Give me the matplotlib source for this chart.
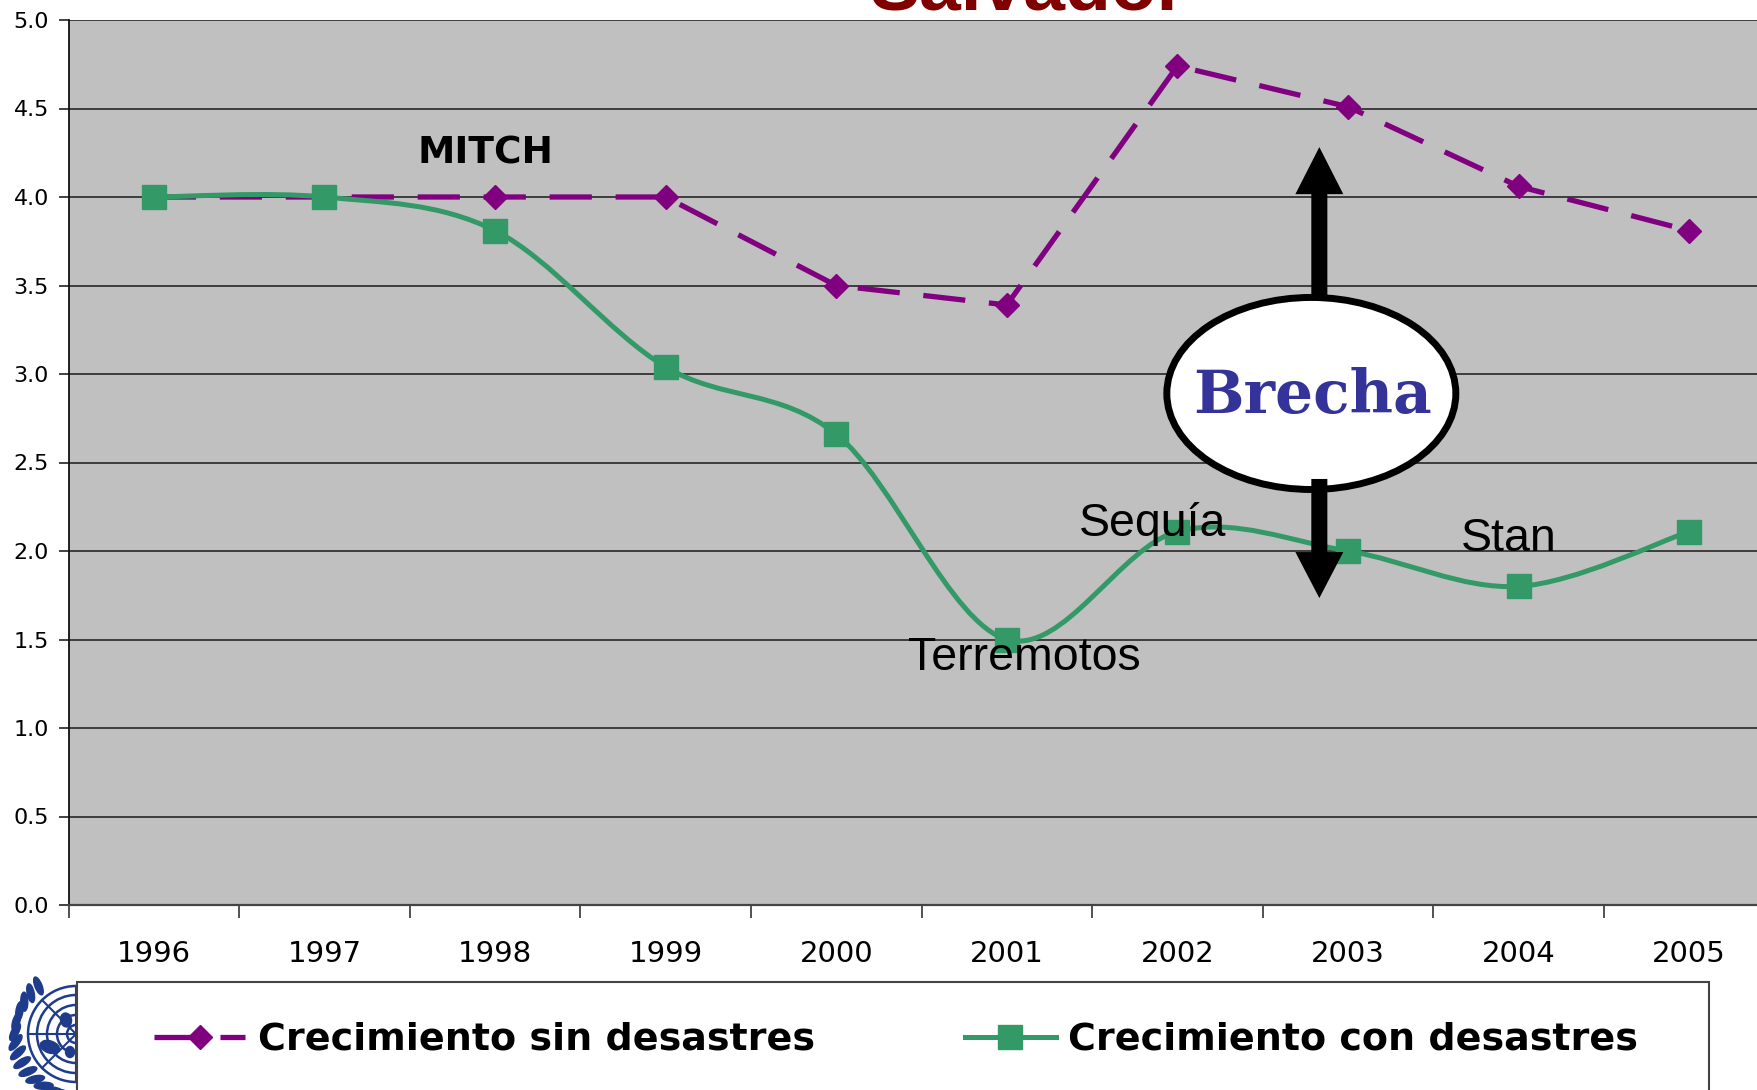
import numpy as np
import matplotlib
matplotlib.use("Agg")
import matplotlib.pyplot as plt
import matplotlib.patches as mpatches
from matplotlib.path import Path
from matplotlib.lines import Line2D
from matplotlib.font_manager import FontProperties

# ---------------- data ----------------
years = ["1996", "1997", "1998", "1999", "2000", "2001", "2002", "2003", "2004", "2005"]
sin_desastres = [4.00, 4.00, 4.00, 4.00, 3.50, 3.39, 4.74, 4.51, 4.06, 3.81]
con_desastres = [4.00, 4.00, 3.81, 3.04, 2.66, 1.50, 2.11, 2.00, 1.80, 2.11]
yticks = [0.0, 0.5, 1.0, 1.5, 2.0, 2.5, 3.0, 3.5, 4.0, 4.5, 5.0]
label_sin = "Crecimiento sin desastres"
label_con = "Crecimiento con desastres"
title_text = "Salvador"

PURPLE = "#800080"
GREEN = "#339966"
BG = "#C0C0C0"
W, H = 1757, 1090

fig = plt.figure(figsize=(W / 100, H / 100), dpi=100)
fig.patch.set_facecolor("white")

# main axes (extends past right edge, as in reference)
ax = fig.add_axes([68.5 / W, (H - 905) / H, 1706 / W, 885 / H])
ax.set_facecolor(BG)
xs = np.arange(len(years))
ax.set_xlim(-0.5, len(years) - 0.5)
ax.set_ylim(0, 5)

ax.set_yticks(yticks)
ax.set_yticklabels([f"{v:.1f}" for v in yticks], fontfamily="DejaVu Sans", fontsize=16)
ax.yaxis.grid(True, color="#333333", lw=1.3)
ax.set_axisbelow(True)
ax.tick_params(axis="y", length=7, width=1.2, pad=7, color="#222222")

ax.set_xticks(xs)
ax.set_xticklabels(years, fontfamily="DejaVu Sans", fontsize=21)
ax.tick_params(axis="x", which="major", length=0, pad=25)
ax.set_xticks(np.arange(-0.5, len(years), 1.0), minor=True)
ax.tick_params(axis="x", which="minor", length=9, width=1.2, color="#333333")

for s in ["top", "right"]:
    ax.spines[s].set_visible(False)
ax.spines["left"].set_color("#111111")
ax.spines["left"].set_linewidth(1.3)
ax.spines["bottom"].set_color("#444444")
ax.spines["bottom"].set_linewidth(1.6)

# ---------------- series ----------------
ln_sin, = ax.plot(xs, sin_desastres, color=PURPLE, lw=3.8, marker="D", ms=12,
                  markeredgecolor=PURPLE, zorder=3, solid_capstyle="butt")
ln_sin.set_dashes((8, 4.5))


def smooth_path(x, y):
    pts = np.column_stack([x, y]).astype(float)
    n = len(pts)
    verts = [pts[0]]
    codes = [Path.MOVETO]
    for i in range(n - 1):
        p0 = pts[i - 1] if i > 0 else pts[i]
        p1 = pts[i]
        p2 = pts[i + 1]
        p3 = pts[i + 2] if i + 2 < n else pts[i + 1]
        c1 = p1 + (p2 - p0) / 6.0
        c2 = p2 - (p3 - p1) / 6.0
        verts += [c1, c2, p2]
        codes += [Path.CURVE4] * 3
    return Path(verts, codes)


ax.add_patch(mpatches.PathPatch(smooth_path(xs, con_desastres), fill=False,
                                edgecolor=GREEN, lw=3.6, zorder=4,
                                joinstyle="round", capstyle="round"))
ax.plot(xs, con_desastres, ls="none", marker="s", ms=17, color=GREEN,
        markeredgecolor=GREEN, zorder=4.5)

# ---------------- annotations ----------------
ax.text(1.943, 4.19, "MITCH", fontfamily="DejaVu Sans", fontweight="bold",
        fontsize=27, ha="center", va="baseline", zorder=5)
ax.text(5.856, 2.085, "Sequía", fontfamily="Liberation Sans", fontsize=33.5,
        ha="center", va="baseline", zorder=5)
ax.text(5.10, 1.328, "Terremotos", fontfamily="Liberation Sans", fontsize=33.5,
        ha="center", va="baseline", zorder=5)
ax.text(7.943, 2.0, "Stan", fontfamily="Liberation Sans", fontsize=33.5,
        ha="center", va="baseline", zorder=5)

# Brecha: arrows + ellipse
ax.add_patch(mpatches.FancyArrow(6.832, 3.418, 0, 0.864, width=0.094,
                                 head_width=0.281, head_length=0.266,
                                 length_includes_head=True, color="black",
                                 lw=0, zorder=6))
ax.add_patch(mpatches.Ellipse((6.785, 2.89), 1.694, 1.085, facecolor="white",
                              edgecolor="black", lw=5, zorder=7))
ax.add_patch(mpatches.FancyArrow(6.832, 2.407, 0, -0.673, width=0.094,
                                 head_width=0.281, head_length=0.26,
                                 length_includes_head=True, color="black",
                                 lw=0, zorder=8))
ax.text(6.791, 2.78, "Brecha", fontfamily="DejaVu Serif", fontweight="bold",
        fontsize=43, color="#333399", ha="center", va="baseline", zorder=9)

# title (cut off at top, as in the reference)
fig.text(1028 / W, 1 - 9 / H, title_text, fontfamily="Liberation Sans",
         fontweight="bold", fontsize=54, color="#800000", ha="center",
         va="baseline")

# ---------------- UN emblem (decorative, partly hidden) ----------------
lax = fig.add_axes([0, 0, 140 / W, 130 / H])
lax.set_xlim(0, 140)
lax.set_ylim(1090, 960)
lax.axis("off")
BLUE = "#1f3b8c"
cx, cy = 76, 1034
for r in [9, 19, 29, 39, 48]:
    lax.add_patch(mpatches.Circle((cx, cy), r, fill=False, edgecolor=BLUE, lw=1.8))
for a in np.deg2rad(np.arange(0, 360, 45)):
    lax.plot([cx, cx + 48 * np.cos(a)], [cy, cy + 48 * np.sin(a)], color=BLUE, lw=1.5)
lax.add_patch(mpatches.Ellipse((50, 1047), 20, 12, angle=20, color=BLUE))
lax.add_patch(mpatches.Ellipse((66, 1020), 11, 14, angle=-10, color=BLUE))
lax.add_patch(mpatches.Ellipse((70, 1052), 9, 11, color=BLUE))
for ang in np.arange(128, 262, 10):
    t = np.deg2rad(ang)
    px, py = cx + 61 * np.cos(t), cy - 61 * np.sin(t)
    lax.add_patch(mpatches.Ellipse((px, py), 19, 7, angle=ang + 90 + 30,
                                   color=BLUE))

# legend frame (extends past bottom)
fig.patches.append(mpatches.Rectangle((77 / W, -0.05), (1709 - 77) / W,
                                      (H - 982) / H + 0.05, transform=fig.transFigure,
                                      facecolor="white", edgecolor="#444444",
                                      lw=1.5, zorder=4))

h_sin = Line2D([], [], color=PURPLE, lw=3.8, marker="D", ms=12, dashes=(8, 4.5))
h_con = Line2D([], [], color=GREEN, lw=3.6, marker="s", ms=17)
fig.legend([h_sin, h_con], [label_sin, label_con], loc="center left",
           bbox_to_anchor=(154 / W, 1 - 1040 / H), ncol=2, frameon=False,
           borderpad=0, borderaxespad=0, handlelength=2.4, handletextpad=0.32,
           columnspacing=3.95,
           prop=FontProperties(family="DejaVu Sans", weight="bold", size=27.4))

fig.savefig("out.png", dpi=100)
